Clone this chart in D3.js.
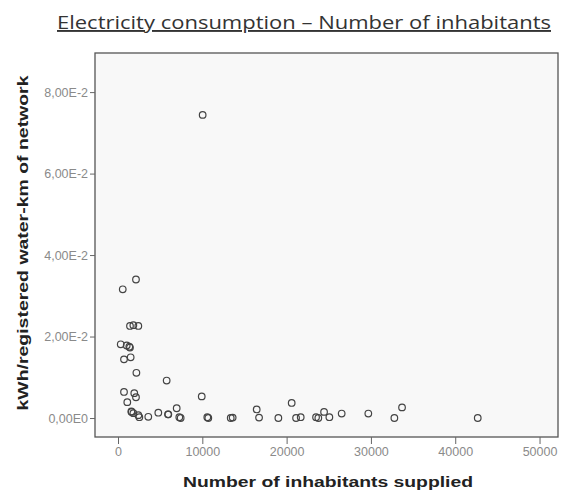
<!DOCTYPE html>
<html>
<head>
<meta charset="utf-8">
<script src="https://cdn.jsdelivr.net/npm/d3@7/dist/d3.min.js"></script>
<style>
  html, body { margin: 0; padding: 0; background: #ffffff; }
  svg { display: block; }
</style>
</head>
<body>
<svg id="chart" width="562" height="495"></svg>
<script>
// Inhabitants supplied per water utility
const inhabitants = [
  2130, 560, 1420, 1820, 2410, 320, 1030, 1420, 710, 1500,
  2180, 5770, 710, 1930, 2130, 1100, 1620, 1820, 2410, 3590,
  4780, 5970, 6960, 7430, 9930, 10040, 10710, 10590, 13370, 13600,
  16450, 16730, 19020, 20600, 21120, 21670, 23490, 23760, 24440, 25070,
  26530, 29690, 32780, 33690, 42670, 2530, 7270, 5930, 1340, 1580
];
// Electricity use, kWh per registered water-km of network
const kwhPerKm = [
  0.0340, 0.0316, 0.0226, 0.0228, 0.0226, 0.0181, 0.0178, 0.0173, 0.0144, 0.0149,
  0.0111, 0.0092, 0.0064, 0.0061, 0.0051, 0.0039, 0.0015, 0.0012, 0.0007, 0.0003,
  0.0013, 0.0009, 0.0024, 0.0000, 0.0053, 0.0744, 0.0000, 0.0002, 0.0000, 0.0001,
  0.0021, 0.0001, 0.0000, 0.0037, 0.0000, 0.0002, 0.0002, 0.0000, 0.0015, 0.0002,
  0.0011, 0.0011, 0.0000, 0.0026, 0.0000, 0.0002, 0.0002, 0.0009, 0.0175, 0.0016
];
const xTicks = [0, 10000, 20000, 30000, 40000, 50000];
const yTicks = [0, 0.02, 0.04, 0.06, 0.08];
const yTickLabels = ["0,00E0", "2,00E-2", "4,00E-2", "6,00E-2", "8,00E-2"];

const titleText = "Electricity consumption \u2013 Number of inhabitants";
const xTitle = "Number of inhabitants supplied";
const yTitle = "kWh/registered water-km of network";

const svg = d3.select("#chart");
const frame = { left: 95, right: 558, top: 53, bottom: 437 };

const x = d3.scaleLinear().domain([-2730, 52190]).range([frame.left, frame.right]);
const y = d3.scaleLinear().domain([-0.00466, 0.0896]).range([frame.bottom, frame.top]);

// Plot background and frame
svg.append("rect")
  .attr("x", frame.left).attr("y", frame.top)
  .attr("width", frame.right - frame.left).attr("height", frame.bottom - frame.top)
  .attr("fill", "#f8f8f8").attr("stroke", "#555").attr("stroke-width", 1.3);

// Axes
const xAxis = d3.axisBottom(x).tickValues(xTicks).tickFormat(d3.format("d"))
  .tickSizeInner(7).tickSizeOuter(0).tickPadding(3);
const gx = svg.append("g").attr("transform", `translate(0,${frame.bottom})`).call(xAxis);
gx.select(".domain").remove();

const yAxis = d3.axisLeft(y).tickValues(yTicks).tickFormat((d, i) => yTickLabels[i])
  .tickSizeInner(5).tickSizeOuter(0).tickPadding(2);
const gy = svg.append("g").attr("transform", `translate(${frame.left},0)`).call(yAxis);
gy.select(".domain").remove();

[gx, gy].forEach(g => {
  g.selectAll(".tick line").attr("stroke", "#666").attr("stroke-width", 1);
  g.selectAll(".tick text")
    .attr("fill", "#8a8a8a")
    .style("font-family", "'Liberation Sans', Arial, sans-serif")
    .style("font-size", "12.5px");
});

// Points
svg.append("g").selectAll("circle")
  .data(inhabitants.map((v, i) => [v, kwhPerKm[i]]))
  .join("circle")
  .attr("cx", d => x(d[0]))
  .attr("cy", d => y(d[1]))
  .attr("r", 3.3)
  .attr("fill", "none")
  .attr("stroke", "#444")
  .attr("stroke-width", 1.2);

// Title
svg.append("text")
  .attr("x", 304).attr("y", 29)
  .attr("text-anchor", "middle")
  .attr("textLength", 494).attr("lengthAdjust", "spacingAndGlyphs")
  .style("font-family", "'Open Sans', 'Noto Sans', sans-serif")
  .style("font-size", "19px")
  .style("text-decoration", "underline")
  .attr("fill", "#333")
  .text(titleText);

// Axis titles
svg.append("text")
  .attr("x", 328).attr("y", 487)
  .attr("text-anchor", "middle")
  .attr("textLength", 290).attr("lengthAdjust", "spacingAndGlyphs")
  .style("font-family", "'Liberation Sans', Arial, sans-serif")
  .style("font-size", "14.5px").style("font-weight", "bold")
  .attr("fill", "#222")
  .text(xTitle);

svg.append("text")
  .attr("transform", "translate(28,243) rotate(-90)")
  .attr("text-anchor", "middle")
  .attr("textLength", 335).attr("lengthAdjust", "spacingAndGlyphs")
  .style("font-family", "'Liberation Sans', Arial, sans-serif")
  .style("font-size", "14.5px").style("font-weight", "bold")
  .attr("fill", "#222")
  .text(yTitle);
</script>
</body>
</html>
